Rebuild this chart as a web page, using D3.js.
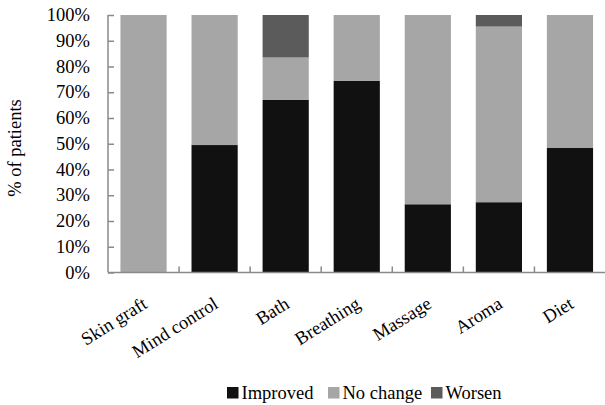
<!DOCTYPE html>
<html>
<head>
<style>
  body { margin: 0; background: #fff; }
  svg text { font-family: "Times New Roman", Times, "Liberation Serif", "DejaVu Serif", serif; }
</style>
</head>
<body>
<script src="https://d3js.org/d3.v7.min.js"></script>
<div id="chart"></div>
<script>
  const categories = ["Skin graft", "Mind control", "Bath", "Breathing", "Massage", "Aroma", "Diet"]
  const improved = [0, 49.5, 67, 74.5, 26.5, 27.3, 48.5]
  const noChange = [100, 50.5, 16.5, 25.5, 73.5, 68.2, 51.5]
  const worsen = [0, 0, 16.5, 0, 0, 4.5, 0]
  const seriesNames = ["Improved", "No change", "Worsen"]
  const yTicks = [0, 10, 20, 30, 40, 50, 60, 70, 80, 90, 100]

  const width = 605
  const height = 405
  const plotLeft = 108, plotRight = 605.5, plotTop = 15, plotBottom = 272.5
  const colors = ["#111111", "#a6a6a6", "#5b5b5b"]
  const axisColor = "#8a8a8a"
  const fontSize = 18.5

  const rows = categories.map((c, i) => ({
    cat: c, "Improved": improved[i], "No change": noChange[i], "Worsen": worsen[i]
  }))
  const stacked = d3.stack().keys(seriesNames)(rows)

  const x = d3.scaleBand().domain(categories).range([plotLeft, plotRight])
    .paddingInner(0.35).paddingOuter(0.175)
  const y = d3.scaleLinear().domain([0, 100]).range([plotBottom, plotTop])

  const svg = d3.select("#chart").append("svg")
    .attr("width", width).attr("height", height)
    .attr("font-size", fontSize)

  // bars
  svg.append("g").selectAll("g")
    .data(stacked)
    .enter().append("g")
    .attr("fill", (d, i) => colors[i])
    .selectAll("rect")
    .data(d => d)
    .enter().append("rect")
    .attr("x", d => x(d.data.cat))
    .attr("width", x.bandwidth())
    .attr("y", d => y(d[1]))
    .attr("height", d => y(d[0]) - y(d[1]))

  // y axis (ticks inside)
  const yAxis = svg.append("g")
    .attr("transform", "translate(" + plotLeft + ",0)")
    .call(d3.axisRight(y).tickValues(yTicks).tickSize(6).tickFormat(""))
  yAxis.select(".domain").attr("stroke", axisColor).attr("stroke-width", 1.5)
    .attr("d", "M0," + plotTop + "V" + plotBottom)
  yAxis.selectAll(".tick line").attr("stroke", axisColor).attr("stroke-width", 1.5)

  svg.append("g").selectAll("text")
    .data(yTicks)
    .enter().append("text")
    .attr("x", 90)
    .attr("y", d => y(d))
    .attr("dy", "0.33em")
    .attr("text-anchor", "end")
    .text(d => d + "%")

  // x axis with ticks between categories
  const step = x.step()
  svg.append("line")
    .attr("x1", plotLeft).attr("x2", plotRight)
    .attr("y1", plotBottom).attr("y2", plotBottom)
    .attr("stroke", axisColor).attr("stroke-width", 1.5)
  svg.append("g").selectAll("line")
    .data(categories.slice(1))
    .enter().append("line")
    .attr("x1", d => x(d) - (step - x.bandwidth()) / 2)
    .attr("x2", d => x(d) - (step - x.bandwidth()) / 2)
    .attr("y1", plotBottom).attr("y2", plotBottom - 6)
    .attr("stroke", axisColor).attr("stroke-width", 1.5)

  svg.append("g").selectAll("text")
    .data(categories)
    .enter().append("text")
    .attr("transform", d => "translate(" + (x(d) + x.bandwidth() / 2 - 2) + ",296) rotate(-32)")
    .attr("text-anchor", "end")
    .attr("dy", "0.7em")
    .text(d => d)

  // y title
  svg.append("text")
    .attr("transform", "translate(21,148) rotate(-90)")
    .attr("text-anchor", "middle")
    .text("% of patients")

  // legend
  const legendX = [227, 328, 431]
  const legend = svg.append("g").selectAll("g")
    .data(seriesNames)
    .enter().append("g")
    .attr("transform", (d, i) => "translate(" + legendX[i] + ",387)")
  legend.append("rect")
    .attr("width", 11.5).attr("height", 11.5)
    .attr("fill", (d, i) => colors[i])
  legend.append("text")
    .attr("x", 14.5).attr("y", 12)
    .text(d => d)
</script>
</body>
</html>
